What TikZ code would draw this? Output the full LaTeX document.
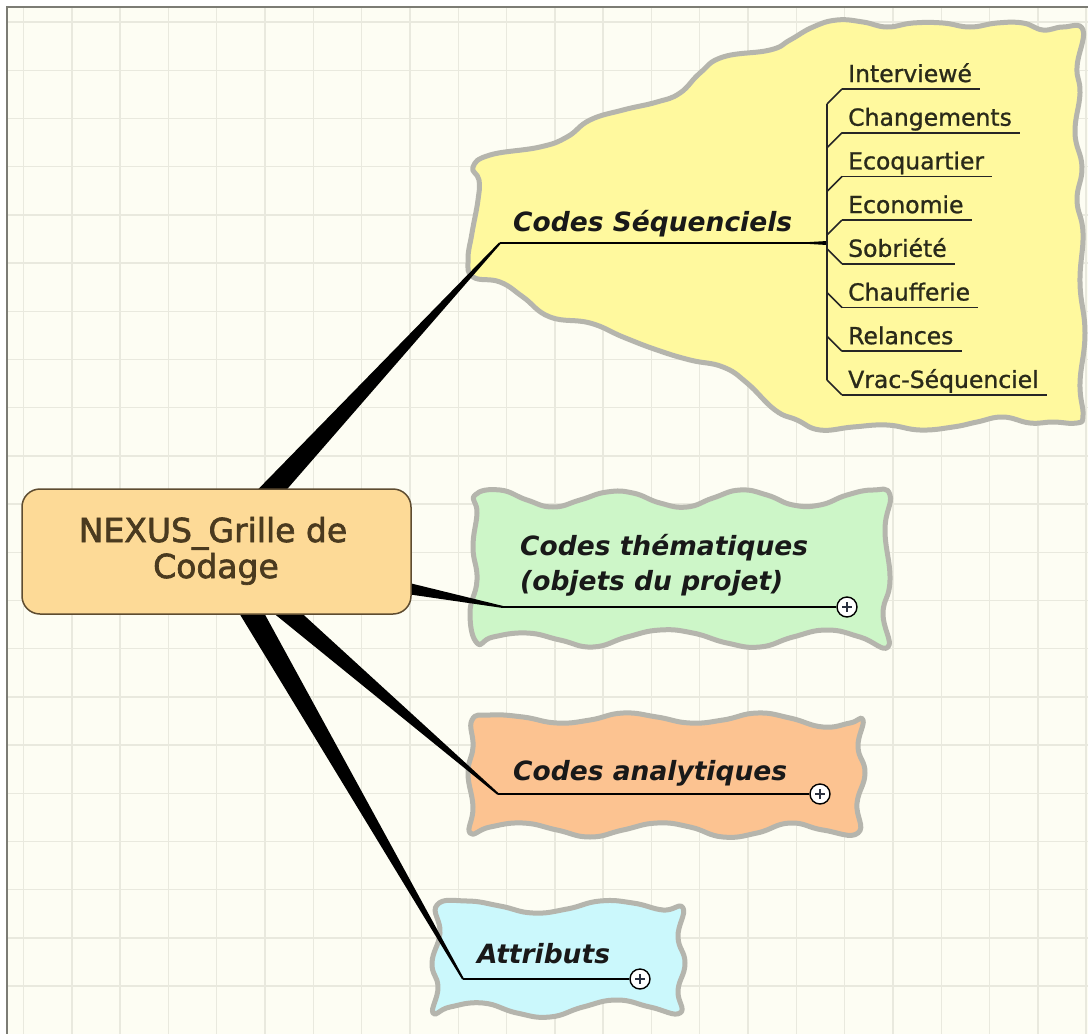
\documentclass[tikz,border=0pt]{standalone}
\usepackage{fontspec}
\setmainfont{DejaVu Sans}[BoldFont={DejaVu Sans Bold},ItalicFont={DejaVu Sans Oblique},BoldItalicFont={DejaVu Sans Bold Oblique}]
\newfontfamily\rootfont{DejaVu Sans}[FakeBold=2]
\newfontfamily\listfont{DejaVu Sans}[FakeBold=1]
\usetikzlibrary{calc}
\definecolor{bg}{HTML}{FDFDF3}
\definecolor{gridc}{HTML}{E9E9DE}
\definecolor{bordc}{HTML}{7C7C74}
\definecolor{cloudline}{HTML}{B5B5AD}
\definecolor{yellowf}{HTML}{FFF99E}
\definecolor{greenf}{HTML}{CDF6C8}
\definecolor{orangef}{HTML}{FCC391}
\definecolor{bluef}{HTML}{CBF8FC}
\definecolor{rootf}{HTML}{FDDA97}
\definecolor{rootb}{HTML}{5E4C30}
\definecolor{roott}{HTML}{4A3A1F}
\definecolor{itemt}{HTML}{2A2A1A}
\definecolor{plusink}{HTML}{2A3040}
\newcommand\wedgeconn[4]{%
  \fill[black] ($(#1)!#3!90:(#2)$) -- ($(#2)!#4!-90:(#1)$) -- ($(#2)!#4!90:(#1)$) -- ($(#1)!#3!-90:(#2)$) -- cycle;}
\tikzset{
  cloudbox/.style={draw=cloudline, line width=5pt, line join=round},
  topic/.style={font=\fontsize{26.5}{30}\selectfont\bfseries\itshape, anchor=base west, inner sep=0pt, text=black!90},
  itemnode/.style={font=\listfont\fontsize{23.5}{28}\selectfont, anchor=base west, inner xsep=8pt, inner ysep=0pt, text=itemt},
  roottext/.style={font=\rootfont\fontsize{33}{36}\selectfont, anchor=base, inner sep=0pt, text=roott},
  underl/.style={draw=black, line width=2pt},
  listline/.style={draw=black!85, line width=1.6pt},
  plusnode/.style={circle, draw=black, fill=white, line width=1.4pt, minimum size=20pt, inner sep=0pt},
  plussign/.style={draw=plusink, line width=1.4pt}
}
\begin{document}
\begin{tikzpicture}[x=1pt,y=-1pt]
\useasboundingbox (0,0) rectangle (1088,1034);
% background and grid
\fill[white] (0,0) rectangle (1088,1034);
\fill[bg] (7,7) rectangle (1088,1034);
\foreach \i in {0,...,22} \draw[gridc, line width=1.4pt] ({23.5+48.3*\i},7) -- ({23.5+48.3*\i},1034);
\foreach \j in {0,...,21} \draw[gridc, line width=1.4pt] (7,{22+48.2*\j}) -- (1088,{22+48.2*\j});
\draw[bordc, line width=2pt] (7,1034) -- (7,7) -- (1088,7);

% topic shapes
\draw[cloudbox, fill=yellowf] plot[smooth cycle, tension=0.75] coordinates {
 (473,167) (490,155) (540,147) (567,137) (590,120) (623,110) (657,102) (680,93) (700,73) (723,57) (770,50) (790,40) (813,27) (837,20) (863,22) (887,27) (913,23) (943,23) (970,27) (997,23) (1023,23) (1043,30) (1063,27) (1083,30)
 (1077,67) (1080,93) (1075,133) (1082,167) (1077,200) (1083,233) (1080,283) (1085,333) (1080,383) (1083,415) (1077,423)
 (1053,422) (1030,423) (1003,417) (977,422) (953,427) (920,430) (887,425) (853,427) (820,430) (797,420) (775,410) (747,383) (723,367) (690,360) (657,350) (623,337) (590,323) (550,317) (523,297) (500,282) (473,277)
 (468,260) (472,233) (478,200) (479,180)};
\draw[cloudbox, fill=greenf] plot[smooth cycle, tension=0.8] coordinates {
 (475,495) (500,490) (527,500) (553,507) (580,500) (607,492) (633,493) (660,503) (687,507) (713,498) (740,490) (767,495) (793,505) (820,505) (847,495) (873,490) (890,495)
 (885,530) (890,580) (883,613) (888,647)
 (860,637) (827,630) (793,637) (760,647) (727,643) (693,633) (660,630) (627,637) (593,647) (560,640) (527,633) (493,637) (477,643)
 (470,613) (477,580) (473,547) (477,513)};
\draw[cloudbox, fill=orangef] plot[smooth cycle, tension=0.8] coordinates {
 (472,720) (490,715) (523,717) (557,723) (590,720) (623,713) (657,717) (690,723) (723,720) (757,713) (790,718) (823,727) (850,723) (863,720)
 (858,747) (865,773) (857,803) (858,833)
 (823,830) (790,823) (757,833) (723,837) (690,827) (657,823) (623,830) (590,837) (557,830) (523,823) (490,827) (470,833)
 (473,807) (468,773) (473,747)};
\draw[cloudbox, fill=bluef] plot[smooth cycle, tension=0.8] coordinates {
 (437,905) (467,901) (500,906) (533,913) (567,909) (600,901) (633,903) (663,910) (683,908)
 (678,937) (685,963) (678,990) (680,1013)
 (650,1007) (617,1000) (583,1007) (550,1017) (517,1013) (483,1003) (450,1007) (433,1013)
 (438,987) (432,963) (440,933)};

% anchor points
\coordinate (rc) at (216,551);
\coordinate (ys) at (500,243);
\coordinate (ye) at (827,243);
\coordinate (yw) at (803,243);
\coordinate (gs) at (503,607);
\coordinate (os) at (498,794);
\coordinate (bs) at (463,979);

% tapered connectors from the root
\wedgeconn{rc}{ys}{13pt}{1pt}
\wedgeconn{rc}{gs}{15pt}{1pt}
\wedgeconn{rc}{os}{12pt}{1pt}
\wedgeconn{rc}{bs}{12.5pt}{1pt}

% root node
\node[draw=rootb, fill=rootf, line width=1.5pt, rounded corners=18pt, minimum width=389pt, minimum height=125pt] (root) at (216.5,551.5) {};
\node[roottext] (rt1) at (213,542) {NEXUS\_Grille de};
\node[roottext] (rt2) at (216,578) {Codage};

% plus markers
\node[plusnode] (gp) at (847,607) {};
\node[plusnode] (op) at (820,794) {};
\node[plusnode] (bp) at (640,979) {};
\foreach \p in {gp,op,bp}{
  \draw[plussign] ($(\p)+(-5,0)$) -- ($(\p)+(5,0)$) ($(\p)+(0,-5)$) -- ($(\p)+(0,5)$);
}

% topic texts and underlines
\node[topic] (yt) at (513,231) {Codes Séquenciels};
\node[topic] (gt1) at (520,555) {Codes thématiques};
\node[topic] (gt2) at (520,590) {(objets du projet)};
\node[topic] (ot) at (513,780) {Codes analytiques};
\node[topic] (bt) at (477,963) {Attributs};
\draw[underl] (ys) -- (ye);
\wedgeconn{ye}{yw}{2pt}{0.6pt}
\draw[underl] (gs) -- (gp.west);
\draw[underl] (os) -- (op.west);
\draw[underl] (bs) -- (bp.west);

% list of sequential codes
\foreach \t [count=\i] in {Interviewé,Changements,Ecoquartier,Economie,Sobriété,Chaufferie,Relances,Vrac-Séquenciel}{
  \node[itemnode] (it\i) at (840,{82+43.7*(\i-1)}) {\t};
  \draw[listline] ($(it\i.base west)+(2,7)$) -- ($(it\i.base east)+(0,7)$);
}
\foreach \i in {1,2,3,4}{
  \draw[listline] ($(it\i.base west)+(-13,22)$) -- ($(it\i.base west)+(2,7)$);
}
\foreach \i in {5,6,7,8}{
  \draw[listline] ($(it\i.base west)+(-13,-8)$) -- ($(it\i.base west)+(2,7)$);
}
\draw[listline] ($(it1.base west)+(-13,22)$) -- ($(it8.base west)+(-13,-8)$);
\end{tikzpicture}
\end{document}
